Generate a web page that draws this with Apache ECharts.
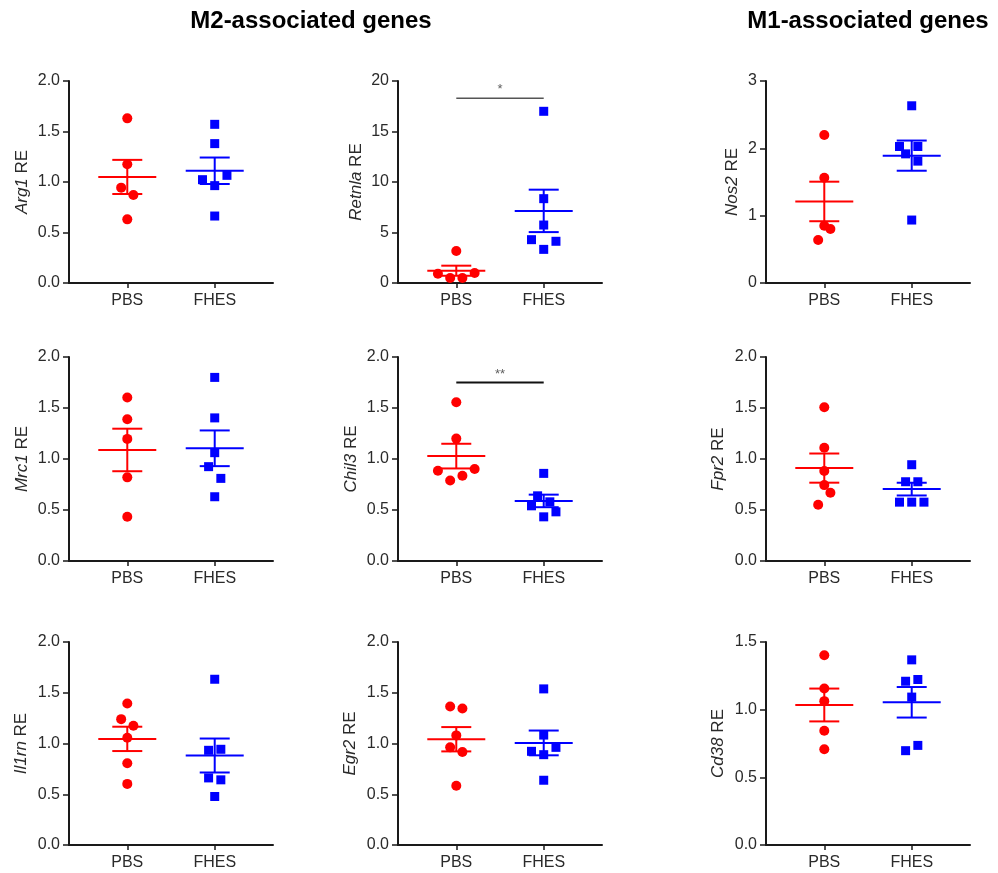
<!DOCTYPE html>
<html>
<head>
<meta charset="utf-8">
<script src="https://cdn.jsdelivr.net/npm/echarts@6/dist/echarts.min.js"></script>
<style>
html,body{margin:0;padding:0;background:#fff;}
#chart{width:998px;height:873px;}
</style>
</head>
<body>
<div id="chart"></div>
<script>
// ---------- data ----------
const groups = ['PBS', 'FHES'];
const sectionTitles = ['M2-associated genes', 'M1-associated genes'];
const genes = ['Arg1', 'Retnla', 'Nos2', 'Mrc1', 'Chil3', 'Fpr2', 'Il1rn', 'Egr2', 'Cd38'];

const arg1PBS    = [1.63, 1.175, 0.944, 0.871, 0.63];
const arg1FHES   = [1.571, 1.38, 1.023, 1.066, 0.964, 0.663];
const retnlaPBS  = [3.17, 0.92, 0.5, 0.5, 0.99];
const retnlaFHES = [17.0, 8.35, 5.74, 4.29, 4.13, 3.33];
const nos2PBS    = [2.199, 1.564, 0.851, 0.802, 0.639];
const nos2FHES   = [2.632, 2.027, 2.027, 1.918, 1.81, 0.935];
const mrc1PBS    = [1.603, 1.39, 1.197, 0.82, 0.433];
const mrc1FHES   = [1.8, 1.403, 1.062, 0.925, 0.81, 0.63];
const chil3PBS   = [1.557, 1.2, 0.885, 0.902, 0.836, 0.79];
const chil3FHES  = [0.859, 0.639, 0.58, 0.541, 0.482, 0.433];
const fpr2PBS    = [1.508, 1.111, 0.882, 0.744, 0.669, 0.551];
const fpr2FHES   = [0.944, 0.777, 0.777, 0.577, 0.577, 0.577];
const il1rnPBS   = [1.394, 1.24, 1.175, 1.057, 0.805, 0.602];
const il1rnFHES  = [1.633, 0.933, 0.943, 0.661, 0.642, 0.478];
const egr2PBS    = [1.365, 1.345, 1.08, 0.962, 0.917, 0.583];
const egr2FHES   = [1.538, 1.083, 0.962, 0.923, 0.89, 0.638];
const cd38PBS    = [1.402, 1.157, 1.063, 0.844, 0.707];
const cd38FHES   = [1.368, 1.21, 1.223, 1.093, 0.736, 0.697];

// horizontal jitter rank of each point (how the dots are spread sideways)
const arg1PBSJit    = [0, 0, -1, 1, 0];
const arg1FHESJit   = [0, 0, -2, 2, 0, 0];
const retnlaPBSJit  = [0, -3, -1, 1, 3];
const retnlaFHESJit = [0, 0, 0, -2, 2, 0];
const nos2PBSJit    = [0, 0, 0, 1, -1];
const nos2FHESJit   = [0, -2, 1, -1, 1, 0];
const mrc1PBSJit    = [0, 0, 0, 0, 0];
const mrc1FHESJit   = [0, 0, 0, -1, 1, 0];
const chil3PBSJit   = [0, 0, -3, 3, 1, -1];
const chil3FHESJit  = [0, -1, 1, -2, 2, 0];
const fpr2PBSJit    = [0, 0, 0, 0, 1, -1];
const fpr2FHESJit   = [0, -1, 1, -2, 0, 2];
const il1rnPBSJit   = [0, -1, 1, 0, 0, 0];
const il1rnFHESJit  = [0, -1, 1, -1, 1, 0];
const egr2PBSJit    = [-1, 1, 0, -1, 1, 0];
const egr2FHESJit   = [0, 0, 2, -2, 0, 0];
const cd38PBSJit    = [0, 0, 0, 0, 0];
const cd38FHESJit   = [0, -1, 1, 0, 1, -1];

// y-axis scales [max, interval]
const yScales = [[2, 0.5], [20, 5], [3, 1], [2, 0.5], [2, 0.5], [2, 0.5], [2, 0.5], [2, 0.5], [1.5, 0.5]];
// significance annotations: [panel index, bar height, text]
const sigMarks = [[1, 18.3, '*'], [4, 1.75, '**']];

const panelData = [
  [arg1PBS, arg1FHES, arg1PBSJit, arg1FHESJit],
  [retnlaPBS, retnlaFHES, retnlaPBSJit, retnlaFHESJit],
  [nos2PBS, nos2FHES, nos2PBSJit, nos2FHESJit],
  [mrc1PBS, mrc1FHES, mrc1PBSJit, mrc1FHESJit],
  [chil3PBS, chil3FHES, chil3PBSJit, chil3FHESJit],
  [fpr2PBS, fpr2FHES, fpr2PBSJit, fpr2FHESJit],
  [il1rnPBS, il1rnFHES, il1rnPBSJit, il1rnFHESJit],
  [egr2PBS, egr2FHES, egr2PBSJit, egr2FHESJit],
  [cd38PBS, cd38FHES, cd38PBSJit, cd38FHESJit]
];

// ---------- layout & style ----------
const colLeft = [69, 398, 766];
const gridW = 204;
const rowTop = [81, 357, 642];
const rowH = [202, 204, 203];
const nameGaps = [38, 33, 25, 38, 38, 39, 39, 39, 39];
const colors = ['#ff0000', '#0000ff'];
const JIT = 0.07;
const FONT = 'Liberation Sans, Arial, Helvetica, sans-serif';
const axisColor = '#1a1a1a';
const textColor = '#2a2a2a';

function mean(a) { return a.reduce((s, v) => s + v, 0) / a.length; }
function sem(a) {
  const m = mean(a);
  const v = a.reduce((s, x) => s + (x - m) * (x - m), 0) / (a.length - 1);
  return Math.sqrt(v / a.length);
}

const grids = [], xAxes = [], yAxes = [], series = [];

panelData.forEach((pd, i) => {
  const r = Math.floor(i / 3), c = i % 3;
  grids.push({ left: colLeft[c], top: rowTop[r], width: gridW, height: rowH[r], containLabel: false });
  xAxes.push({
    gridIndex: i, type: 'value', min: 1 / 3, max: 8 / 3,
    splitLine: { show: false },
    axisLine: { show: true, onZero: false, lineStyle: { color: axisColor, width: 2 } },
    axisTick: { show: true, customValues: [1, 2], length: 5, lineStyle: { color: axisColor, width: 1.5 } },
    axisLabel: { show: true, customValues: [1, 2], margin: 10, fontFamily: FONT, fontSize: 16, color: textColor,
      formatter: v => groups[Math.round(v) - 1] || '' }
  });
  const [ymax, step] = yScales[i];
  yAxes.push({
    gridIndex: i, type: 'value', min: 0, max: ymax, interval: step,
    name: '{i|' + genes[i] + '} RE', nameLocation: 'middle', nameGap: nameGaps[i], nameRotate: 90,
    nameTextStyle: { fontFamily: FONT, fontSize: 17, color: textColor,
      rich: { i: { fontStyle: 'italic', fontFamily: FONT, fontSize: 17, color: textColor } } },
    splitLine: { show: false },
    axisLine: { show: true, lineStyle: { color: axisColor, width: 2 } },
    axisTick: { show: true, length: 6, lineStyle: { color: axisColor, width: 1.5 } },
    axisLabel: { fontFamily: FONT, fontSize: 16, color: textColor, margin: 9,
      formatter: v => step < 1 ? v.toFixed(1) : String(v) }
  });

  const [pbs, fhes, pj, fj] = pd;
  // mean ± SEM
  series.push({
    type: 'custom', xAxisIndex: i, yAxisIndex: i, z: 2, silent: true,
    data: [[1, mean(pbs), sem(pbs), 0], [2, mean(fhes), sem(fhes), 1]],
    renderItem: (params, api) => {
      const x = api.value(0), m = api.value(1), s = api.value(2), g = api.value(3);
      const cm = api.coord([x, m]), ct = api.coord([x, m + s]), cb = api.coord([x, m - s]);
      const st = { stroke: colors[g], lineWidth: 2 };
      return { type: 'group', children: [
        { type: 'line', shape: { x1: cm[0] - 29, y1: cm[1], x2: cm[0] + 29, y2: cm[1] }, style: st },
        { type: 'line', shape: { x1: ct[0] - 15, y1: ct[1], x2: ct[0] + 15, y2: ct[1] }, style: st },
        { type: 'line', shape: { x1: cb[0] - 15, y1: cb[1], x2: cb[0] + 15, y2: cb[1] }, style: st },
        { type: 'line', shape: { x1: ct[0], y1: ct[1], x2: cb[0], y2: cb[1] }, style: st }
      ]};
    }
  });
  series.push({
    type: 'scatter', xAxisIndex: i, yAxisIndex: i, z: 3, symbol: 'circle', symbolSize: 10,
    itemStyle: { color: colors[0], opacity: 1 }, silent: true,
    data: pbs.map((v, k) => [1 + pj[k] * JIT, v])
  });
  series.push({
    type: 'scatter', xAxisIndex: i, yAxisIndex: i, z: 3, symbol: 'rect', symbolSize: 9,
    itemStyle: { color: colors[1], opacity: 1 }, silent: true,
    data: fhes.map((v, k) => [2 + fj[k] * JIT, v])
  });
});

sigMarks.forEach(([pi, y, txt]) => {
  const isSingle = txt.length === 1;
  series.push({
    type: 'line', xAxisIndex: pi, yAxisIndex: pi, symbol: 'none', silent: true, z: 4,
    lineStyle: { color: isSingle ? '#555' : '#111', width: isSingle ? 1.5 : 2 },
    data: [[1, y], [2, y]]
  });
  series.push({
    type: 'scatter', xAxisIndex: pi, yAxisIndex: pi, symbolSize: 0, silent: true, z: 4,
    label: { show: true, position: 'top', distance: 2, formatter: txt, fontFamily: FONT, fontSize: 13, color: '#333' },
    data: [[1.5, y]]
  });
});

const chart = echarts.init(document.getElementById('chart'), null, { renderer: 'canvas' });
chart.setOption({
  backgroundColor: '#ffffff',
  animation: false,
  grid: grids, xAxis: xAxes, yAxis: yAxes, series: series,
  graphic: [
    { type: 'text', x: 311, y: 21, style: { text: sectionTitles[0], font: 'bold 24px ' + FONT, fill: '#000', textAlign: 'center', textVerticalAlign: 'middle' } },
    { type: 'text', x: 868, y: 21, style: { text: sectionTitles[1], font: 'bold 24px ' + FONT, fill: '#000', textAlign: 'center', textVerticalAlign: 'middle' } }
  ]
});
</script>
</body>
</html>
